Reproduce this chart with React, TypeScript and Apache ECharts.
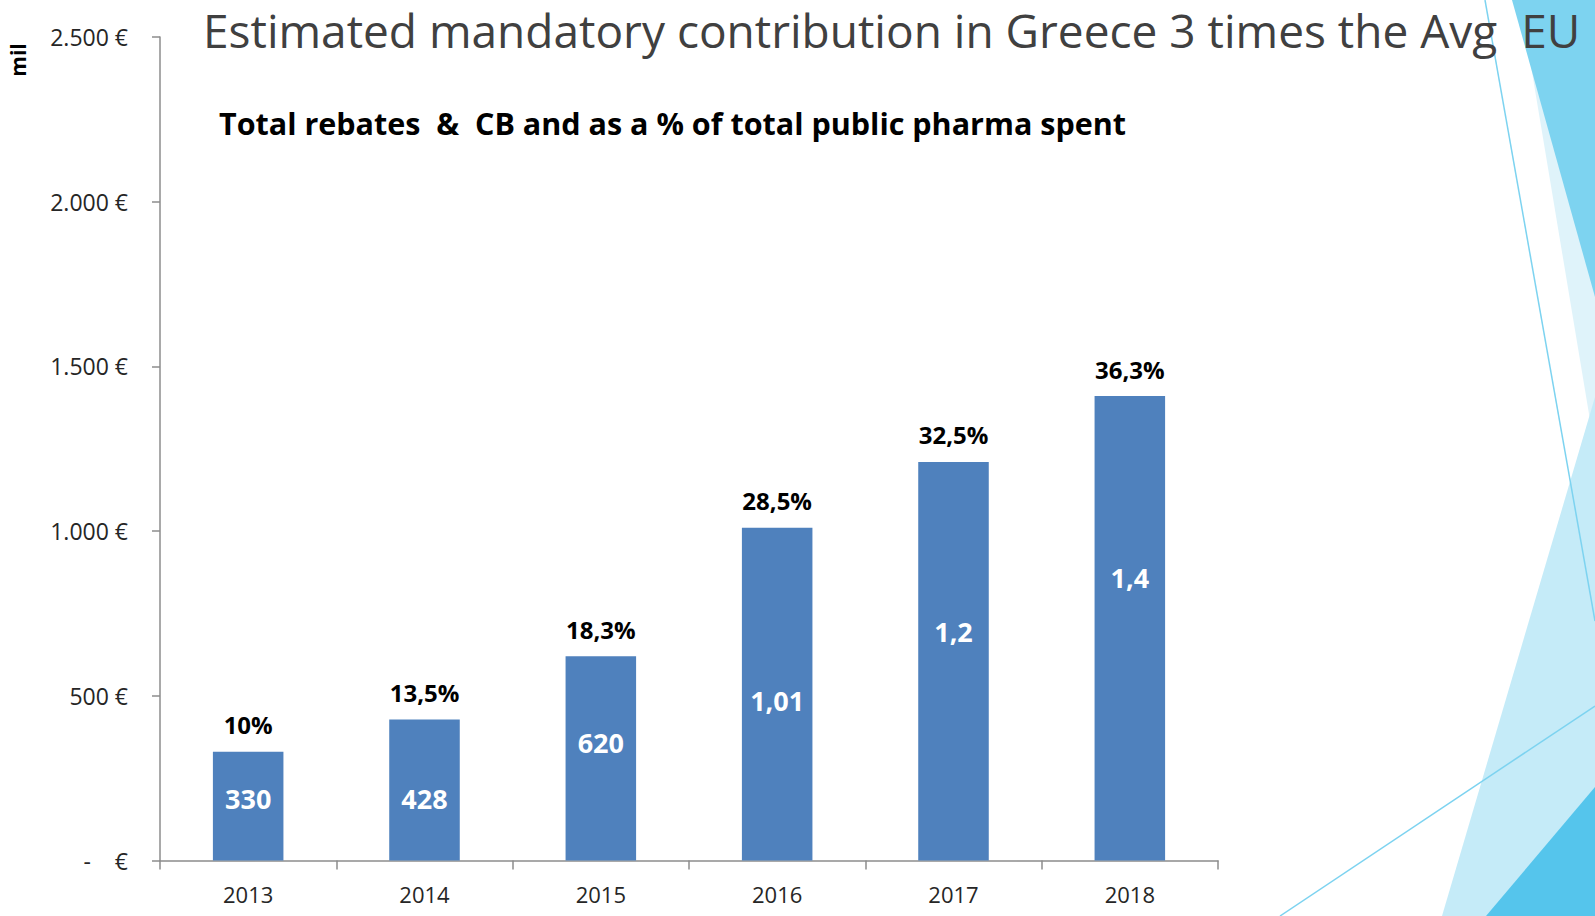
import React, { useEffect, useRef } from "react";
import * as echarts from "echarts";

const categories = ["2013", "2014", "2015", "2016", "2017", "2018"];
const values = [330, 428, 620, 1010, 1210, 1410];
const valueLabels = ["330", "428", "620", "1,01", "1,2", "1,4"];
const pctLabels = ["10%", "13,5%", "18,3%", "28,5%", "32,5%", "36,3%"];
const yMin = 0;
const yMax = 2500;
const yInterval = 500;

// style only: vertical position of the inner label, as fraction of bar height from top
const innerLabelPos = ["43%", "56%", "42%", "52%", "42.5%", "39%"];

const titleText = "Estimated mandatory contribution in Greece 3 times the Avg  EU";
const subtitleText = "Total rebates  &  CB and as a % of total public pharma spent";

function fmtTick(v: number): string {
  if (v === 0) return "-    €";
  const s = String(v);
  const withSep = s.length > 3 ? s.slice(0, s.length - 3) + "." + s.slice(s.length - 3) : s;
  return withSep + " €";
}

export default function App() {
  const ref = useRef<HTMLDivElement>(null);
  useEffect(() => {
    if (!ref.current) return;
    const chart = echarts.init(ref.current, undefined, { renderer: "svg" });
    const font = "'Open Sans', 'Noto Sans', sans-serif";
    const option: any = {
      animation: false,
      backgroundColor: "#ffffff",
      grid: { left: 160, right: 377, top: 37, bottom: 55.5, containLabel: false },
      xAxis: {
        type: "category",
        data: categories,
        boundaryGap: true,
        axisLine: { lineStyle: { color: "#8c8c8c", width: 1.5 } },
        axisTick: { show: true, length: 9, lineStyle: { color: "#8c8c8c", width: 1.5 } },
        axisLabel: { color: "#262626", fontSize: 22, fontFamily: font, margin: 22 },
      },
      yAxis: {
        type: "value",
        min: yMin,
        max: yMax,
        interval: yInterval,
        splitLine: { show: false },
        axisLine: { show: true, lineStyle: { color: "#8c8c8c", width: 1.5 } },
        axisTick: { show: true, length: 8, lineStyle: { color: "#8c8c8c", width: 1.5 } },
        axisLabel: {
          color: "#262626",
          fontSize: 23,
          fontFamily: font,
          margin: 32,
          formatter: (v: number) => fmtTick(v),
        },
      },
      series: [
        {
          type: "bar",
          data: values.map((v, i) => ({
            value: v,
            label: { position: ["50%", innerLabelPos[i]] },
          })),
          barWidth: "40%",
          itemStyle: { color: "#4F81BD" },
          label: {
            show: true,
            formatter: (p: any) => valueLabels[p.dataIndex],
            color: "#ffffff",
            fontSize: 27,
            fontWeight: "bold",
            fontFamily: font,
            align: "center",
            verticalAlign: "middle",
          },
          z: 2,
        },
        {
          type: "bar",
          data: values,
          barWidth: "40%",
          barGap: "-100%",
          itemStyle: { color: "rgba(0,0,0,0)" },
          label: {
            show: true,
            position: "top",
            distance: 15,
            formatter: (p: any) => pctLabels[p.dataIndex],
            color: "#000000",
            fontSize: 24,
            fontWeight: "bold",
            fontFamily: font,
          },
          z: 3,
        },
      ],
      graphic: [
        { type: "polygon", shape: { points: [[1520, 0], [1595, 0], [1595, 450]] }, style: { fill: "#DFF3FA" }, z: 0 },
        { type: "polygon", shape: { points: [[1512, 0], [1595, 0], [1595, 297]] }, style: { fill: "#7DD3F0" }, z: 1 },
        { type: "polygon", shape: { points: [[1595, 397], [1442, 916], [1595, 916]] }, style: { fill: "#C5EBF8" }, z: 1 },
        { type: "polygon", shape: { points: [[1486, 916], [1595, 787], [1595, 916]] }, style: { fill: "#55C5EC" }, z: 2 },
        { type: "line", shape: { x1: 1485, y1: 0, x2: 1595, y2: 621 }, style: { stroke: "#7DD3F0", lineWidth: 1.5 }, z: 3 },
        { type: "line", shape: { x1: 1280, y1: 916, x2: 1595, y2: 706 }, style: { stroke: "#7DD3F0", lineWidth: 1.5 }, z: 3 },
        {
          type: "text",
          x: 203,
          y: 30,
          z: 10,
          style: {
            text: titleText,
            fill: "#404040",
            fontSize: 46,
            fontFamily: "'Open Sans', sans-serif",
            verticalAlign: "middle",
            align: "left",
          },
        },
        {
          type: "text",
          x: 219,
          y: 123,
          z: 10,
          style: {
            text: subtitleText,
            fill: "#000000",
            fontSize: 30.5,
            fontWeight: "bold",
            fontFamily: font,
            verticalAlign: "middle",
            align: "left",
          },
        },
        {
          type: "text",
          x: 18,
          y: 60,
          rotation: Math.PI / 2,
          z: 10,
          style: {
            text: "mil",
            fill: "#000000",
            fontSize: 21,
            fontWeight: "bold",
            fontFamily: font,
            verticalAlign: "middle",
            align: "center",
          },
        },
      ],
    };
    chart.setOption(option);
    return () => chart.dispose();
  }, []);
  return (
    <div
      ref={ref}
      style={{ position: "absolute", left: 0, top: 0, width: 1595, height: 916 }}
    />
  );
}
